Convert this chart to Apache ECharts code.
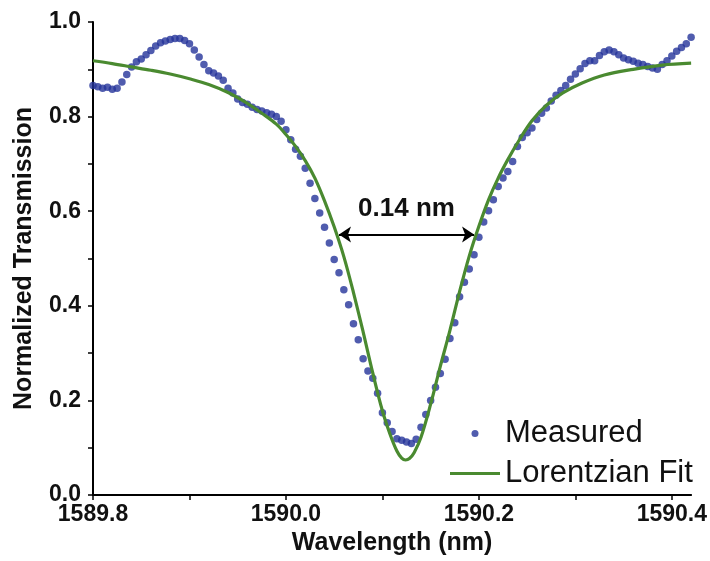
<!DOCTYPE html>
<html>
<head>
<meta charset="utf-8">
<script src="https://cdn.jsdelivr.net/npm/echarts@6/dist/echarts.min.js"></script>
<style>
  html, body { margin: 0; padding: 0; background: #ffffff; }
  #chart { width: 710px; height: 561px; }
</style>
</head>
<body>
<div id="chart"></div>
<script>
// Measured transmission spectrum of the resonance (wavelength in nm)
const measuredWavelength = [
  1589.800, 1589.805, 1589.810, 1589.815, 1589.820, 1589.825, 1589.830, 1589.835, 1589.840, 1589.845,
  1589.850, 1589.855, 1589.860, 1589.865, 1589.870, 1589.875, 1589.880, 1589.885, 1589.890, 1589.895,
  1589.900, 1589.905, 1589.910, 1589.915, 1589.920, 1589.925, 1589.930, 1589.935, 1589.940, 1589.945,
  1589.950, 1589.955, 1589.960, 1589.965, 1589.970, 1589.975, 1589.980, 1589.985, 1589.990, 1589.995,
  1590.000, 1590.005, 1590.010, 1590.015, 1590.020, 1590.025, 1590.030, 1590.035, 1590.040, 1590.045,
  1590.050, 1590.055, 1590.060, 1590.065, 1590.070, 1590.075, 1590.080, 1590.085, 1590.090, 1590.095,
  1590.100, 1590.105, 1590.110, 1590.115, 1590.120, 1590.125, 1590.130, 1590.135, 1590.140, 1590.145,
  1590.150, 1590.155, 1590.160, 1590.165, 1590.170, 1590.175, 1590.180, 1590.185, 1590.190, 1590.195,
  1590.200, 1590.205, 1590.210, 1590.215, 1590.220, 1590.225, 1590.230, 1590.235, 1590.240, 1590.245,
  1590.250, 1590.255, 1590.260, 1590.265, 1590.270, 1590.275, 1590.280, 1590.285, 1590.290, 1590.295,
  1590.300, 1590.305, 1590.310, 1590.315, 1590.320, 1590.325, 1590.330, 1590.335, 1590.340, 1590.345,
  1590.350, 1590.355, 1590.360, 1590.365, 1590.370, 1590.375, 1590.380, 1590.385, 1590.390, 1590.395,
  1590.400, 1590.405, 1590.410, 1590.415, 1590.420
];
const measuredTransmission = [
  0.866, 0.863, 0.860, 0.862, 0.858, 0.860, 0.873, 0.889, 0.905, 0.916,
  0.922, 0.931, 0.940, 0.949, 0.956, 0.960, 0.963, 0.965, 0.965, 0.961,
  0.954, 0.941, 0.926, 0.910, 0.897, 0.892, 0.886, 0.877, 0.860, 0.850,
  0.837, 0.830, 0.826, 0.820, 0.815, 0.812, 0.808, 0.805, 0.800, 0.790,
  0.772, 0.751, 0.731, 0.716, 0.691, 0.659, 0.627, 0.596, 0.566, 0.533,
  0.498, 0.470, 0.434, 0.402, 0.362, 0.328, 0.288, 0.262, 0.247, 0.215,
  0.174, 0.153, 0.134, 0.119, 0.116, 0.112, 0.109, 0.118, 0.143, 0.170,
  0.200, 0.228, 0.257, 0.287, 0.331, 0.364, 0.419, 0.450, 0.478, 0.508,
  0.545, 0.577, 0.601, 0.624, 0.652, 0.670, 0.684, 0.705, 0.737, 0.756,
  0.766, 0.776, 0.794, 0.807, 0.818, 0.833, 0.845, 0.855, 0.866, 0.879,
  0.890, 0.901, 0.912, 0.918, 0.918, 0.929, 0.937, 0.941, 0.937, 0.931,
  0.924, 0.920, 0.917, 0.913, 0.910, 0.906, 0.903, 0.900, 0.910, 0.918,
  0.928, 0.938, 0.946, 0.954, 0.968
];

// Lorentzian fit curve
const fitWavelength = [
  1589.800, 1589.820, 1589.840, 1589.860, 1589.880, 1589.900, 1589.920, 1589.940, 1589.960, 1589.975,
  1589.990, 1590.000, 1590.010, 1590.020, 1590.030, 1590.040, 1590.050, 1590.060, 1590.070, 1590.080,
  1590.090, 1590.100, 1590.108, 1590.115, 1590.120, 1590.124, 1590.128, 1590.133, 1590.140, 1590.150,
  1590.160, 1590.170, 1590.180, 1590.190, 1590.200, 1590.210, 1590.220, 1590.230, 1590.242, 1590.255,
  1590.270, 1590.287, 1590.307, 1590.330, 1590.360, 1590.390, 1590.420
];
const fitTransmission = [
  0.918, 0.912, 0.905, 0.898, 0.890, 0.880, 0.868, 0.851, 0.828, 0.807,
  0.784, 0.762, 0.737, 0.707, 0.670, 0.622, 0.567, 0.504, 0.428, 0.345,
  0.258, 0.178, 0.128, 0.093, 0.078, 0.074, 0.077, 0.090, 0.122, 0.192,
  0.272, 0.348, 0.430, 0.505, 0.568, 0.624, 0.670, 0.709, 0.751, 0.791,
  0.824, 0.850, 0.871, 0.888, 0.900, 0.909, 0.913
];

// Linewidth (FWHM) marker: centre wavelength, width (nm) and the level it is drawn at
const fwhmCenter = 1590.125;
const fwhmWidth = 0.14;
const fwhmLevel = 0.551;

// Axis ticks and labels
const xTickValues = [1589.8, 1589.9, 1590.0, 1590.1, 1590.2, 1590.3, 1590.4];
const xLabelValues = [1589.8, 1590.0, 1590.2, 1590.4];
const yTickValues = [0, 0.1, 0.2, 0.3, 0.4, 0.5, 0.6, 0.7, 0.8, 0.9, 1.0];
const yLabelValues = [0, 0.2, 0.4, 0.6, 0.8, 1.0];

const FONT = '"Liberation Sans", Arial, Helvetica, sans-serif';
const DOT_COLOR = '#24339a';
const FIT_COLOR = '#4a8a30';

const measured = measuredWavelength.map((w, i) => [w, measuredTransmission[i]]);
const fit = fitWavelength.map((w, i) => [w, fitTransmission[i]]);

const chart = echarts.init(document.getElementById('chart'), null, { renderer: 'canvas' });

const axisCommon = {
  type: 'value',
  axisLine: { show: true, onZero: false, lineStyle: { color: '#000', width: 2 } },
  axisTick: { show: true, inside: false, length: 5, lineStyle: { color: '#000', width: 1.5 } },
  splitLine: { show: false },
  nameLocation: 'middle',
  nameTextStyle: { fontFamily: FONT, fontWeight: 'bold', fontSize: 25, color: '#111' }
};

const tickLabelStyle = {
  fontFamily: FONT, fontWeight: 'bold', fontSize: 23, color: '#111',
  formatter: v => v.toFixed(1)
};

chart.setOption({
  animation: false,
  backgroundColor: '#ffffff',
  grid: { left: 93, right: 18, top: 22, bottom: 65, containLabel: false },
  xAxis: Object.assign({}, axisCommon, {
    min: 1589.8,
    max: 1590.42,
    name: 'Wavelength (nm)',
    nameGap: 36,
    axisTick: Object.assign({}, axisCommon.axisTick, { customValues: xTickValues }),
    axisLabel: Object.assign({ customValues: xLabelValues, margin: 8 }, tickLabelStyle)
  }),
  yAxis: Object.assign({}, axisCommon, {
    min: 0,
    max: 1,
    name: 'Normalized Transmission',
    nameGap: 56,
    axisTick: Object.assign({}, axisCommon.axisTick, { customValues: yTickValues }),
    axisLabel: Object.assign({ customValues: yLabelValues, margin: 12 }, tickLabelStyle)
  }),
  legend: {
    orient: 'vertical',
    left: 445,
    top: 413,
    itemWidth: 50,
    itemHeight: 7,
    itemGap: 9,
    selectedMode: false,
    textStyle: { fontFamily: FONT, fontSize: 31, color: '#111' },
    data: [
      { name: 'Measured', icon: 'circle' },
      { name: 'Lorentzian Fit', icon: 'path://M0,0L50,0L50,3L0,3Z' }
    ]
  },
  series: [
    {
      name: 'Measured',
      type: 'scatter',
      data: measured,
      symbol: 'circle',
      symbolSize: 7.5,
      itemStyle: { color: DOT_COLOR },
      z: 2
    },
    {
      name: 'Lorentzian Fit',
      type: 'line',
      data: fit,
      smooth: 0.35,
      showSymbol: false,
      symbol: 'none',
      lineStyle: { color: FIT_COLOR, width: 3.2 },
      itemStyle: { color: FIT_COLOR },
      z: 3,
      markLine: {
        silent: true,
        symbol: ['arrow', 'arrow'],
        symbolSize: [12, 12],
        lineStyle: { color: '#000', width: 2, type: 'solid' },
        label: {
          show: true,
          position: 'middle',
          distance: 13,
          formatter: fwhmWidth.toFixed(2) + ' nm',
          fontFamily: FONT, fontWeight: 'bold', fontSize: 26, color: '#111'
        },
        data: [[
          { coord: [fwhmCenter - fwhmWidth / 2, fwhmLevel] },
          { coord: [fwhmCenter + fwhmWidth / 2, fwhmLevel] }
        ]]
      }
    }
  ]
});
</script>
</body>
</html>
